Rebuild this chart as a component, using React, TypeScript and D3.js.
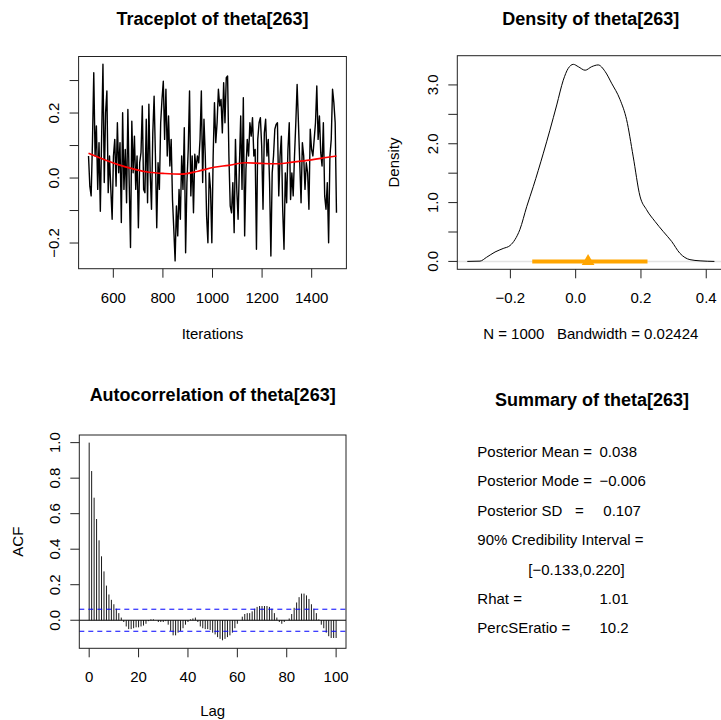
import React from 'react';
import * as d3 from 'd3';

// ---------- DATA ----------
const traceStart = 500;
const traceEnd = 1500;
const traceValues: number[] = [
  0.068, -0.025, -0.055, 0.109, 0.324, 0.068, 0.160, -0.035, 0.109, -0.102,
  0.129, 0.350, -0.014, 0.201, 0.268, -0.045, 0.068, -0.035, -0.127, 0.068,
  0.119, -0.025, 0.170, 0.016, 0.109, -0.137, 0.201, -0.035, 0.088, -0.076,
  0.211, -0.014, -0.214, 0.175, 0.016, 0.129, -0.035, 0.068, -0.153, 0.047,
  0.078, 0.222, -0.035, -0.045,
  0.181, -0.076, 0.227, 0.016, -0.096, 0.139, 0.252, 0.068, -0.153, 0.047,
  -0.035, 0.170, 0.242, 0.298, 0.119, 0.273, 0.068, 0.191, 0.037, 0.119,
  -0.066, -0.158, -0.255, -0.086, -0.178, -0.035, -0.127, 0.068, -0.035, 0.155,
  -0.230, -0.014, 0.088, 0.268, -0.055, 0.068, -0.107, 0.073, 0.027, 0.068,
  0.047, 0.119, 0.268, -0.014, 0.181, 0.068, -0.117, -0.199, 0.016, -0.035,
  -0.199, 0.068, 0.232, 0.109, 0.170, 0.273, 0.222, 0.242, 0.139, 0.293,
  0.170, 0.309, 0.314, 0.068, -0.086, -0.107, -0.014, -0.168, 0.119, -0.035,
  -0.127, 0.037, 0.191, -0.035, 0.247, -0.178, 0.027, 0.119, 0.068, 0.170,
  0.129, 0.186, 0.068, 0.088, -0.219, 0.119, 0.170, 0.186, 0.098, -0.096,
  0.139, 0.181, 0.068, 0.119, -0.014, -0.240, 0.016, 0.068, 0.150, 0.165,
  0.170, -0.055, 0.068, 0.129, -0.096, -0.219, 0.016, -0.076, 0.088, 0.170,
  -0.066, 0.016, -0.055, 0.068, 0.170, 0.288, 0.170, 0.047, -0.076, 0.109,
  0.068, -0.035, 0.047, 0.016, -0.096, 0.150, 0.088, 0.068, 0.119, 0.170,
  0.283, 0.119, 0.191, 0.078, 0.037, 0.170, -0.055, -0.096, -0.014, -0.199,
  0.068, 0.119, 0.273, 0.232, 0.170, -0.107,
];
const smoothIter = [500, 616, 744, 807, 874, 942, 1006, 1065, 1132, 1200, 1264, 1323, 1390, 1458, 1500];
const smoothVal = [0.076, 0.042, 0.018, 0.014, 0.012, 0.021, 0.033, 0.039, 0.047, 0.045, 0.044, 0.049, 0.055, 0.063, 0.068];
const traceXTicks = [600, 800, 1000, 1200, 1400];
const traceYTicks = [-0.2, -0.1, 0, 0.1, 0.2, 0.3];
const traceYLabels = [-0.2, 0, 0.2];

const densityX = [
  -0.332, -0.293, -0.273, -0.247, -0.222, -0.201, -0.186, -0.171, -0.150, -0.130,
  -0.099, -0.079, -0.058, -0.038, -0.023, -0.007, 0.008, 0.029, 0.049, 0.069,
  0.090, 0.110, 0.136, 0.156, 0.176, 0.197, 0.217, 0.243, 0.268, 0.294,
  0.319, 0.350, 0.381, 0.425,
];
const densityY = [
  0.0, 0.005, 0.07, 0.16, 0.22, 0.27, 0.37, 0.54, 0.93, 1.27,
  1.84, 2.23, 2.66, 3.08, 3.28, 3.35, 3.31, 3.25, 3.31, 3.34,
  3.23, 3.03, 2.75, 2.41, 1.79, 1.11, 0.88, 0.68, 0.51, 0.34,
  0.14, 0.03, 0.01, 0.0,
];
const postMean = 0.038;
const credInterval = [-0.133, 0.22];
const densityXTicks = [-0.2, 0, 0.2, 0.4];
const densityYTicks = [0, 0.5, 1, 1.5, 2, 2.5, 3];
const densityYLabels = [0, 1, 2, 3];

const acfValues = [
  1.0, 0.84, 0.69, 0.57, 0.45, 0.36, 0.275, 0.195, 0.145, 0.115,
  0.09, 0.065, 0.04, 0.015, -0.01, -0.035, -0.05, -0.05, -0.045, -0.04,
  -0.04, -0.035, -0.03, -0.02, -0.005, 0.005, 0.005, 0.0, -0.01, -0.01,
  -0.01, -0.005, -0.025, -0.06, -0.085, -0.085, -0.07, -0.06, -0.045, -0.025,
  -0.01, 0.005, 0.01, 0.015, -0.01, -0.035, -0.045, -0.05, -0.05, -0.055,
  -0.07, -0.08, -0.095, -0.105, -0.113, -0.105, -0.095, -0.085, -0.07, -0.045,
  -0.02, 0.0, 0.02, 0.035, 0.04, 0.04, 0.05, 0.065, 0.075, 0.08,
  0.08, 0.08, 0.08, 0.075, 0.065, 0.04, 0.015, -0.01, -0.02, -0.01,
  0.0, 0.01, 0.035, 0.07, 0.1, 0.13, 0.15, 0.15, 0.14, 0.12,
  0.09, 0.065, 0.04, 0.005, -0.025, -0.045, -0.07, -0.09, -0.1, -0.1,
  -0.1,
];
const acfBound = 0.062;
const acfXTicks = [0, 20, 40, 60, 80, 100];
const acfYTicks = [0, 0.2, 0.4, 0.6, 0.8, 1.0];

const summaryLabels = [
  'Posterior Mean =',
  'Posterior Mode =',
  'Posterior SD',
  '90% Credibility Interval =',
  '',
  'Rhat =',
  'PercSEratio =',
];
const summaryValues = ['0.038', '\u22120.006', '0.107', '', '[\u22120.133,0.220]', '1.01', '10.2'];

// ---------- HELPERS ----------
const FONT = '"Liberation Sans", Arial, Helvetica, sans-serif';
const fmt = (v: number, d = 1) => {
  const s = Math.abs(v).toFixed(d);
  return v < -1e-9 ? '\u2212' + s : s;
};

const TICK = 9;

export default function App() {
  // Traceplot
  const tL = 78.6, tR = 346.4, tT = 56.5, tB = 268.7;
  const tx = d3.scaleLinear().domain([460, 1540]).range([tL, tR]);
  const ty = d3.scaleLinear().domain([-0.279, 0.374]).range([tB, tT]);
  const n = traceValues.length;
  const tracePts: [number, number][] = traceValues.map((v, i) => [
    traceStart + (i * (traceEnd - traceStart)) / (n - 1),
    v,
  ]);
  const traceLine = d3.line<[number, number]>().x((d) => tx(d[0])).y((d) => ty(d[1]));
  const smoothLine = d3
    .line<number>()
    .x((_, i) => tx(smoothIter[i]))
    .y((d) => ty(d))
    .curve(d3.curveMonotoneX);

  // Density
  const dL = 457.3, dR = 724.2, dT = 55.7, dB = 269.3;
  const dx = d3.scaleLinear().domain([-0.3626, 0.455]).range([dL, dR]);
  const dy = d3.scaleLinear().domain([-0.134, 3.497]).range([dB, dT]);
  const densLine = d3
    .line<number>()
    .x((_, i) => dx(densityX[i]))
    .y((d) => dy(d))
    .curve(d3.curveMonotoneX);
  const tri = d3.symbol().type(d3.symbolTriangle).size(70)();

  // ACF
  const aL = 79.3, aR = 346, aT = 435, aB = 648.3;
  const ax = d3.scaleLinear().domain([-4, 104]).range([aL, aR]);
  const ay = d3.scaleLinear().domain([-0.158, 1.043]).range([aB, aT]);

  const fontBase = { fontFamily: FONT, fontSize: 15, fill: '#000' } as const;
  const titleStyle = { fontFamily: FONT, fontSize: 18, fontWeight: 700, fill: '#000' } as const;

  const yLabel = (x: number, y: number, text: string, key?: any) => (
    <text key={key} transform={`translate(${x},${y}) rotate(-90)`} textAnchor="middle" {...fontBase}>
      {text}
    </text>
  );

  const summaryY = (i: number) => 457 + i * 29.4;

  return (
    <svg
      width={721}
      height={720}
      style={{ position: 'absolute', left: 0, top: 0, background: '#fff' }}
    >
      <rect x={0} y={0} width={721} height={720} fill="#fff" />

      {/* ===== Traceplot ===== */}
      <text x={(tL + tR) / 2} y={25} textAnchor="middle" {...titleStyle}>
        Traceplot of theta[263]
      </text>
      <path d={traceLine(tracePts) || ''} fill="none" stroke="#000" strokeWidth={1.4} strokeLinejoin="round" />
      <path d={smoothLine(smoothVal) || ''} fill="none" stroke="#ff0000" strokeWidth={1.6} />
      <rect x={tL} y={tT} width={tR - tL} height={tB - tT} fill="none" stroke="#222" strokeWidth={1} />
      {traceXTicks.map((t) => (
        <g key={'tx' + t}>
          <line x1={tx(t)} x2={tx(t)} y1={tB} y2={tB + TICK} stroke="#222" />
          <text x={tx(t)} y={tB + 34} textAnchor="middle" {...fontBase}>
            {t}
          </text>
        </g>
      ))}
      {traceYTicks.map((t) => (
        <line key={'ty' + t} x1={tL - TICK} x2={tL} y1={ty(t)} y2={ty(t)} stroke="#222" />
      ))}
      {traceYLabels.map((t) => yLabel(tL - 19.6, ty(t), fmt(t), 'tyl' + t))}
      <text x={(tL + tR) / 2} y={tB + 70} textAnchor="middle" {...fontBase}>
        Iterations
      </text>

      {/* ===== Density ===== */}
      <text x={(dL + dR) / 2} y={25} textAnchor="middle" {...titleStyle}>
        Density of theta[263]
      </text>
      <line x1={dL} x2={dR} y1={dy(0)} y2={dy(0)} stroke="#e3e3e3" strokeWidth={1.5} />
      <path d={densLine(densityY) || ''} fill="none" stroke="#000" strokeWidth={1} />
      <line
        x1={dx(credInterval[0])}
        x2={dx(credInterval[1])}
        y1={dy(0)}
        y2={dy(0)}
        stroke="#ffa500"
        strokeWidth={4}
      />
      <path d={tri || ''} transform={`translate(${dx(postMean)},${dy(0)})`} fill="#ffa500" />
      <rect x={dL} y={dT} width={dR - dL} height={dB - dT} fill="none" stroke="#222" strokeWidth={1} />
      {densityXTicks.map((t) => (
        <g key={'dx' + t}>
          <line x1={dx(t)} x2={dx(t)} y1={dB} y2={dB + TICK} stroke="#222" />
          <text x={dx(t)} y={dB + 34} textAnchor="middle" {...fontBase}>
            {fmt(t)}
          </text>
        </g>
      ))}
      {densityYTicks.map((t) => (
        <line key={'dy' + t} x1={dL - TICK} x2={dL} y1={dy(t)} y2={dy(t)} stroke="#222" />
      ))}
      {densityYLabels.map((t) => yLabel(dL - 19.6, dy(t), fmt(t), 'dyl' + t))}
      {yLabel(dL - 58, (dT + dB) / 2, 'Density')}
      <text x={(dL + dR) / 2} y={dB + 70} textAnchor="middle" {...fontBase} style={{ whiteSpace: 'pre' }}>
        {'N = 1000   Bandwidth = 0.02424'}
      </text>

      {/* ===== ACF ===== */}
      <text x={(aL + aR) / 2} y={401} textAnchor="middle" {...titleStyle}>
        Autocorrelation of theta[263]
      </text>
      {acfValues.map((v, i) => (
        <line key={'acf' + i} x1={ax(i)} x2={ax(i)} y1={ay(0)} y2={ay(v)} stroke="#1a1a1a" strokeWidth={1} />
      ))}
      <line x1={aL} x2={aR} y1={ay(0)} y2={ay(0)} stroke="#000" strokeWidth={1} />
      {[acfBound, -acfBound].map((b) => (
        <line key={'b' + b} x1={aL} x2={aR} y1={ay(b)} y2={ay(b)} stroke="#0000ff" strokeWidth={1} strokeDasharray="5,4" />
      ))}
      <rect x={aL} y={aT} width={aR - aL} height={aB - aT} fill="none" stroke="#222" strokeWidth={1} />
      {acfXTicks.map((t) => (
        <g key={'ax' + t}>
          <line x1={ax(t)} x2={ax(t)} y1={aB} y2={aB + TICK} stroke="#222" />
          <text x={ax(t)} y={aB + 34} textAnchor="middle" {...fontBase}>
            {t}
          </text>
        </g>
      ))}
      {acfYTicks.map((t) => (
        <g key={'ay' + t}>
          <line x1={aL - TICK} x2={aL} y1={ay(t)} y2={ay(t)} stroke="#222" />
          {yLabel(aL - 19.6, ay(t), fmt(t))}
        </g>
      ))}
      {yLabel(aL - 56, (aT + aB) / 2, 'ACF')}
      <text x={(aL + aR) / 2} y={aB + 68} textAnchor="middle" {...fontBase}>
        Lag
      </text>

      {/* ===== Summary ===== */}
      <text x={592} y={406} textAnchor="middle" {...titleStyle}>
        Summary of theta[263]
      </text>
      {summaryLabels.map((s, i) =>
        s ? (
          <text key={'sl' + i} x={477.3} y={summaryY(i)} {...fontBase}>
            {s}
          </text>
        ) : null
      )}
      <text x={575} y={summaryY(2)} {...fontBase}>=</text>
      {summaryValues.map((s, i) =>
        s ? (
          <text key={'sv' + i} x={i === 4 ? 528.3 : i === 2 ? 603.3 : 599.5} y={summaryY(i)} {...fontBase}>
            {s}
          </text>
        ) : null
      )}
    </svg>
  );
}
